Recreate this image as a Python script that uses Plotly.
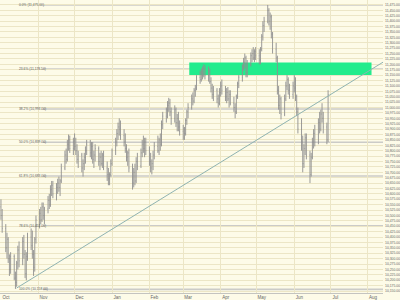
import pandas as pd
import plotly.graph_objects as go

# ---------------- data ----------------
start_day = "2009-10-01"
open_ = [
    # Oct
    10540,10500,10440,10350,10390,10300,10250,10310,10210,10190,10280,10340,10290,10380,10320,10230,10310,10400,10360,10320,10260,10390,
    # Nov
    10480,10510,10480,10540,10500,10530,10570,10550,10620,10640,10600,10630,10650,10630,10660,10720,10780,10760,10830,10850,10810,
    # Dec
    10840,10820,10800,10760,10780,10720,10740,10770,10800,10830,10790,10820,10760,10780,10810,10750,10770,10740,10780,10720,10690,10670,10690,
    # Jan
    10740,10800,10840,10880,10910,10900,10870,10840,10810,10770,10790,10720,10650,10700,10660,10750,10730,10790,10830,10810,10840,
    # Feb
    10800,10750,10720,10740,10780,10820,10800,10850,10830,10920,10960,10990,11010,11020,10980,10950,10990,10930,10950,10910,
    # Mar
    10890,10900,10880,10940,10980,11000,11040,11030,11080,11090,11140,11130,11160,11150,11180,11150,11170,11120,11090,11060,11080,11040,11020,
    # Apr
    11070,11100,11080,11050,11070,11040,11060,11020,11000,10980,11050,11110,11140,11190,11210,11230,11160,11200,11240,11250,11230,11260,
    # May
    11240,11220,11270,11330,11380,11400,11450,11400,11420,11340,11270,11230,11080,11010,11040,10970,11040,11100,11130,11080,11060,
    # Jun
    11100,11090,11050,10980,10900,10840,10740,10810,10860,10780,10690,10770,10840,10880,10840,10930,10900,10970,10950,10910,10850,
]
high = [
    10575,10530,10460,10420,10400,10320,10330,10320,10240,10290,10360,10380,10400,10410,10340,10330,10420,10440,10430,10340,10400,10500,
    10530,10540,10560,10560,10540,10590,10600,10640,10660,10660,10650,10670,10680,10670,10740,10800,10810,10850,10875,10870,10860,
    10880,10860,10830,10800,10790,10760,10790,10820,10850,10850,10840,10840,10800,10830,10820,10790,10800,10790,10800,10750,10720,10700,10760,
    10810,10860,10900,10930,10950,10940,10900,10880,10830,10800,10810,10740,10720,10740,10770,10790,10810,10850,10870,10860,10860,
    10820,10790,10760,10800,10840,10870,10860,10880,10940,10980,11000,11030,11045,11040,11000,11010,11000,10970,10980,10940,
    10920,10910,10950,10990,11020,11060,11070,11090,11105,11150,11170,11180,11190,11200,11195,11190,11180,11140,11110,11100,11090,11060,11090,
    11120,11130,11100,11090,11095,11080,11080,11050,11020,11060,11120,11150,11200,11230,11250,11240,11220,11255,11270,11280,11270,11280,
    11270,11280,11340,11400,11420,11475,11460,11440,11430,11350,11300,11240,11100,11060,11050,11060,11120,11150,11140,11110,11120,
    11150,11140,11060,11000,10950,10870,10830,10880,10880,10800,10790,10860,10900,10920,10950,10980,10990,11020,10980,10930,11080,
]
low = [
    10480,10420,10330,10300,10280,10220,10230,10200,10160,10170,10250,10260,10270,10300,10210,10200,10290,10340,10300,10220,10240,10370,
    10440,10460,10470,10480,10460,10510,10530,10540,10590,10580,10570,10600,10610,10590,10650,10710,10740,10750,10800,10790,10780,
    10800,10780,10740,10720,10700,10680,10710,10740,10780,10770,10760,10740,10720,10750,10730,10710,10730,10720,10710,10660,10640,10640,10680,
    10730,10780,10820,10850,10870,10850,10820,10790,10750,10730,10700,10620,10630,10640,10650,10710,10720,10770,10790,10770,10780,
    10730,10700,10690,10710,10760,10790,10780,10800,10820,10900,10930,10950,10980,10960,10920,10930,10910,10890,10890,10870,
    10850,10850,10870,10920,10950,10990,11010,11020,11050,11080,11110,11120,11130,11140,11130,11120,11110,11070,11040,11030,11020,11000,11010,
    11050,11060,11030,11020,11030,11000,11010,10980,10950,10970,11040,11090,11120,11170,11180,11140,11140,11190,11210,11220,11210,11220,
    11200,11200,11260,11310,11350,11390,11380,11360,11320,11250,11210,11060,10990,10970,10945,10960,11030,11080,11060,11040,11040,
    11070,11030,10960,10880,10800,10700,10720,10780,10760,10650,10680,10760,10810,10820,10830,10880,10890,10930,10880,10830,10840,
]
close = [
    10500,10440,10350,10390,10300,10250,10310,10210,10190,10280,10340,10290,10380,10320,10230,10310,10400,10360,10320,10260,10390,10480,
    10510,10480,10540,10500,10530,10570,10550,10620,10640,10600,10630,10650,10630,10660,10720,10780,10760,10830,10850,10810,10840,
    10820,10800,10760,10780,10720,10740,10770,10800,10830,10790,10820,10760,10780,10810,10750,10770,10740,10780,10720,10690,10670,10690,10740,
    10800,10840,10880,10910,10900,10870,10840,10810,10770,10790,10720,10650,10700,10660,10750,10730,10790,10830,10810,10840,10800,
    10750,10720,10740,10780,10820,10800,10850,10830,10920,10960,10990,11010,11020,10980,10950,10990,10930,10950,10910,10890,
    10900,10880,10940,10980,11000,11040,11030,11080,11090,11140,11130,11160,11150,11180,11150,11170,11120,11090,11060,11080,11040,11020,11070,
    11100,11080,11050,11070,11040,11060,11020,11000,10980,11050,11110,11140,11190,11210,11230,11160,11200,11240,11250,11230,11260,11240,
    11220,11270,11330,11380,11400,11450,11400,11420,11340,11270,11230,11080,11010,11040,10970,11040,11100,11130,11080,11060,11100,
    11090,11050,10980,10900,10840,10740,10810,10860,10780,10690,10770,10840,10880,10840,10930,10900,10970,10950,10910,10850,11060,
]

fib_pct = ["0.0%", "23.6%", "38.2%", "50.0%", "61.8%", "78.6%", "100.0%"]
fib_values = [11475.00, 11178.50, 10993.00, 10839.00, 10683.00, 10452.00, 10158.00]

band_dates = ["2010-03-06", "2010-08-04"]
band_values = [11151, 11208]

trend_dates = ["2009-10-14", "2010-08-13 12:00"]
trend_values = [10164, 11210]

x_range = ["2009-09-30 05:00", "2010-08-13 12:00"]
y_range = [10141, 11498]

# ---------------- figure ----------------
dates = pd.bdate_range(start_day, periods=len(close))

BG = "#fdfbe8"
GRID = "#ece6c6"

fig = go.Figure()

fig.add_shape(type="rect", xref="x", yref="y",
              x0=band_dates[0], x1=band_dates[1], y0=band_values[0], y1=band_values[1],
              fillcolor="#22ec8c", line=dict(width=0), layer="between")

for pct, v in zip(fib_pct, fib_values):
    fig.add_shape(type="line", xref="paper", yref="y", x0=43/383, x1=1, y0=v, y1=v,
                  line=dict(color="#cbcbc8", width=1.6), layer="between")
    fig.add_annotation(xref="paper", yref="y", x=17/383, y=v, xanchor="left", yanchor="middle",
                       text=f"{pct} ({v:,.2f})", showarrow=False,
                       font=dict(size=3.3, color="#555555", family="Liberation Sans"))

fig.add_trace(go.Ohlc(x=dates, open=open_, high=high, low=low, close=close,
                      increasing=dict(line=dict(color="#8e8e8e", width=0.9)),
                      decreasing=dict(line=dict(color="#8e8e8e", width=0.9)),
                      tickwidth=0.35, hoverinfo="skip", showlegend=False))

fig.add_trace(go.Scatter(x=trend_dates, y=trend_values, mode="lines",
                         line=dict(color="#8fb3b1", width=1), hoverinfo="skip", showlegend=False))

fig.update_layout(
    width=400, height=300,
    margin=dict(l=0, r=17, t=0, b=7),
    paper_bgcolor=BG, plot_bgcolor=BG,
    showlegend=False,
    xaxis=dict(type="date", range=x_range, rangeslider=dict(visible=False),
               tick0="2009-10-01", dtick="M1", tickformat="%b",
               ticklabelmode="instant", ticklabelshift=5, ticklabelstandoff=0,
               showgrid=True, gridcolor=GRID, gridwidth=1,
               showline=True, linecolor="#c4c4c0", linewidth=1,
               ticks="", tickfont=dict(size=4.5, color="#666666", family="Liberation Sans"),
               zeroline=False, fixedrange=True),
    yaxis=dict(side="right", range=y_range, tick0=10150, dtick=25, tickformat=",.2f",
               showgrid=True, gridcolor=GRID, gridwidth=1,
               ticks="", ticklabelstandoff=1,
               tickfont=dict(size=3.4, color="#666666", family="Liberation Sans"),
               zeroline=False, showline=False, fixedrange=True),
)

fig.write_html("out.html")
